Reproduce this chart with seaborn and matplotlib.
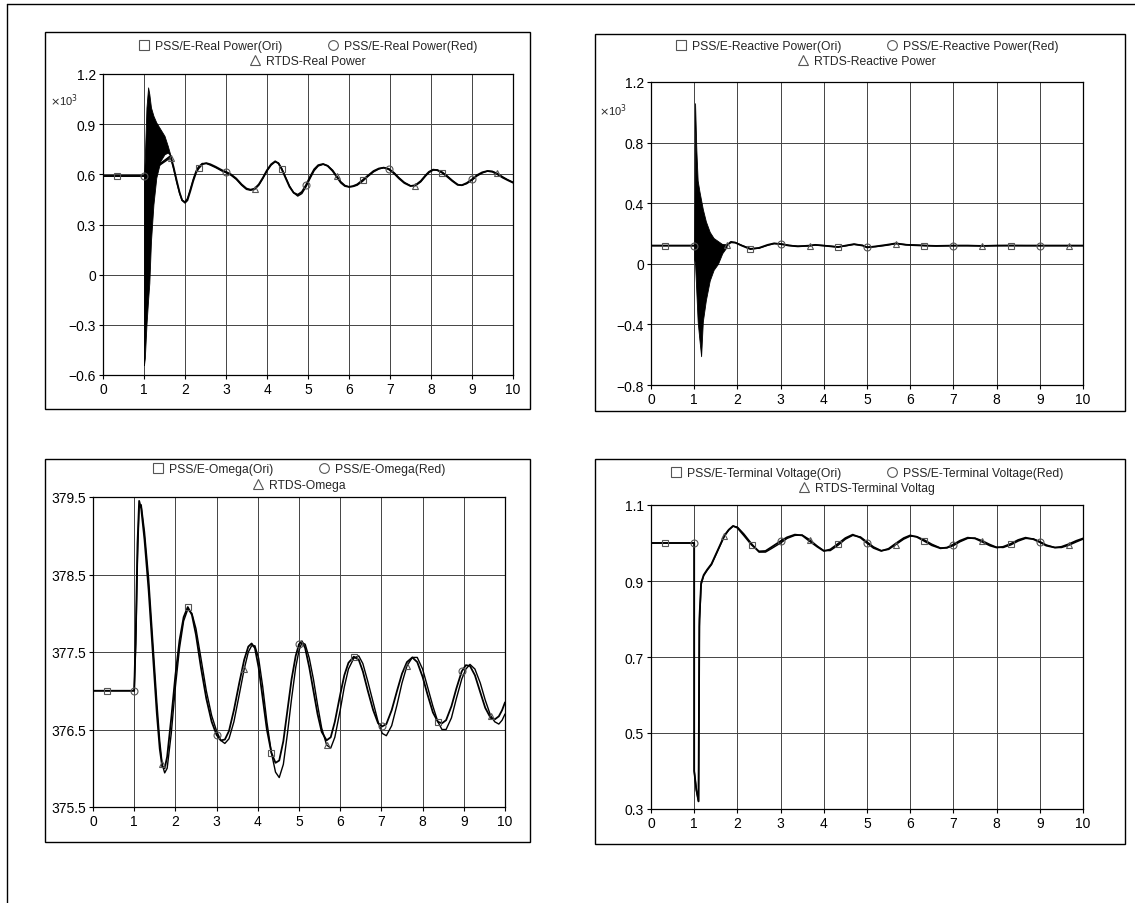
import numpy as np
import seaborn as sns
import matplotlib.pyplot as plt
from matplotlib.lines import Line2D
from matplotlib.patches import Rectangle

# ---- Real power (x10^3) ----
rp_t = [0, 0.33, 0.67, 1.0, 1.65, 1.72, 1.8, 1.87, 1.93, 2.0,
        2.06, 2.13, 2.2, 2.27, 2.33, 2.42, 2.52, 2.62, 2.75, 2.9,
        3.0, 3.12, 3.25, 3.38, 3.5, 3.6, 3.7, 3.8, 3.9, 4.0,
        4.1, 4.2, 4.28, 4.36, 4.45, 4.55, 4.65, 4.75, 4.85, 4.95,
        5.05, 5.15, 5.25, 5.37, 5.48, 5.6, 5.7, 5.8, 5.9, 6.0,
        6.1, 6.2, 6.33, 6.45, 6.6, 6.73, 6.85, 6.97, 7.1, 7.22,
        7.35, 7.5, 7.62, 7.75, 7.87, 7.95, 8.05, 8.15, 8.27, 8.4,
        8.52, 8.65, 8.75, 8.87, 9.0, 9.12, 9.25, 9.38, 9.5, 9.62,
        9.75, 9.87, 10.0]
rp_pss = [0.59, 0.59, 0.59, 0.59, 0.71, 0.645, 0.56, 0.49, 0.445, 0.43,
          0.445, 0.50, 0.56, 0.61, 0.635, 0.66, 0.667, 0.66, 0.645, 0.625,
          0.615, 0.60, 0.575, 0.54, 0.515, 0.508, 0.515, 0.54, 0.58, 0.625,
          0.66, 0.678, 0.665, 0.63, 0.58, 0.525, 0.49, 0.478, 0.495, 0.535,
          0.585, 0.63, 0.655, 0.662, 0.65, 0.62, 0.585, 0.55, 0.53, 0.525,
          0.53, 0.54, 0.565, 0.59, 0.62, 0.635, 0.64, 0.63, 0.605, 0.575,
          0.548, 0.53, 0.535, 0.56, 0.595, 0.615, 0.628, 0.625, 0.61, 0.585,
          0.56, 0.537, 0.535, 0.548, 0.57, 0.595, 0.612, 0.62, 0.615, 0.60,
          0.58, 0.565, 0.55]
rp_rtds = [0.59, 0.59, 0.59, 0.59, 0.70, 0.635, 0.55, 0.485, 0.445, 0.435,
           0.455, 0.51, 0.57, 0.62, 0.645, 0.665, 0.665, 0.655, 0.64, 0.62,
           0.61, 0.595, 0.57, 0.535, 0.51, 0.505, 0.51, 0.535, 0.575, 0.62,
           0.655, 0.675, 0.668, 0.635, 0.585, 0.53, 0.49, 0.47, 0.485, 0.525,
           0.575, 0.622, 0.65, 0.66, 0.652, 0.625, 0.59, 0.556, 0.534, 0.525,
           0.527, 0.535, 0.558, 0.585, 0.615, 0.632, 0.64, 0.634, 0.61, 0.58,
           0.552, 0.532, 0.532, 0.555, 0.59, 0.61, 0.625, 0.627, 0.614, 0.59,
           0.564, 0.54, 0.534, 0.544, 0.565, 0.59, 0.608, 0.62, 0.618, 0.605,
           0.585, 0.568, 0.553]
rp_band_t = [1.0, 1.02, 1.06, 1.1, 1.13, 1.17, 1.23, 1.3, 1.4, 1.5, 1.58, 1.65]
rp_band_hi = [0.59, 0.7, 1.0, 1.12, 1.08, 1.0, 0.95, 0.91, 0.87, 0.83, 0.77, 0.71]
rp_band_lo = [-0.54, -0.5, -0.3, -0.15, -0.05, 0.2, 0.42, 0.58, 0.68, 0.72, 0.73, 0.71]

# ---- Reactive power (x10^3) ----
rq_t = [0, 0.33, 0.67, 1.0, 1.75, 1.85, 1.95,
        2.1, 2.3, 2.5, 2.7, 2.85,
        3.0, 3.2, 3.4, 3.67, 3.8,
        4.0, 4.33, 4.5, 4.7, 4.9,
        5.0, 5.2, 5.45, 5.67, 5.9,
        6.33, 6.6, 7.0, 7.33, 7.67,
        8.0, 8.33, 8.67, 9.0, 9.33, 9.67, 10.0]
rq_pss = [0.12, 0.12, 0.12, 0.12, 0.12, 0.145, 0.14,
          0.12, 0.097, 0.105, 0.125, 0.135,
          0.13, 0.12, 0.115, 0.12, 0.125,
          0.12, 0.11, 0.12, 0.13, 0.12,
          0.108, 0.115, 0.125, 0.135, 0.125,
          0.12, 0.118, 0.12, 0.12, 0.118,
          0.12, 0.12, 0.12, 0.12, 0.12, 0.12, 0.12]
rq_rtds = [0.12, 0.12, 0.12, 0.12, 0.125, 0.14, 0.14,
           0.122, 0.10, 0.103, 0.122, 0.133,
           0.132, 0.122, 0.116, 0.118, 0.124,
           0.12, 0.112, 0.118, 0.128, 0.122,
           0.11, 0.113, 0.122, 0.133, 0.127,
           0.121, 0.118, 0.12, 0.12, 0.119,
           0.12, 0.121, 0.12, 0.12, 0.12, 0.12, 0.12]
rq_band_t = [1.0, 1.02, 1.05, 1.08, 1.12, 1.16, 1.2, 1.27, 1.36, 1.45, 1.55, 1.65, 1.75]
rq_band_hi = [0.12, 1.06, 0.75, 0.55, 0.48, 0.42, 0.36, 0.28, 0.21, 0.17, 0.15, 0.13, 0.12]
rq_band_lo = [0.03, 0.0, -0.19, -0.38, -0.5, -0.61, -0.38, -0.24, -0.11, -0.04, 0.0, 0.07, 0.11]

# ---- Omega ----
om_t = [0, 0.33, 0.67, 1.0, 1.04, 1.08, 1.12, 1.17, 1.25, 1.35,
        1.45, 1.55, 1.62, 1.68, 1.74, 1.8, 1.9, 2.0, 2.1, 2.2,
        2.3, 2.4, 2.5, 2.62, 2.75, 2.88, 3.0, 3.1, 3.2, 3.3,
        3.42, 3.55, 3.67, 3.77, 3.85, 3.93, 4.02, 4.12, 4.22, 4.33,
        4.43, 4.52, 4.62, 4.72, 4.82, 4.92, 5.0, 5.07, 5.15, 5.25,
        5.35, 5.45, 5.55, 5.67, 5.77, 5.87, 6.0, 6.1, 6.2, 6.33,
        6.45, 6.55, 6.67, 6.8, 6.92, 7.02, 7.12, 7.25, 7.38, 7.5,
        7.62, 7.75, 7.87, 8.0, 8.12, 8.25, 8.37, 8.47, 8.57, 8.7,
        8.82, 8.95, 9.05, 9.15, 9.27, 9.4, 9.52, 9.65, 9.75, 9.85,
        9.93, 10.0]
om_pss = [377.0, 377.0, 377.0, 377.0, 377.8, 378.9, 379.45, 379.35, 378.95, 378.3,
          377.5, 376.7, 376.25, 376.02, 376.0, 376.15, 376.65, 377.2, 377.65, 377.95,
          378.08, 377.98, 377.72, 377.3, 376.9, 376.6, 376.43, 376.36, 376.37, 376.48,
          376.75, 377.1, 377.4, 377.57, 377.61, 377.55, 377.3, 376.9, 376.5, 376.2,
          376.07, 376.1, 376.35, 376.75, 377.15, 377.45, 377.6, 377.64, 377.55, 377.3,
          377.0, 376.7, 376.47, 376.36, 376.4, 376.6, 376.95, 377.2, 377.36, 377.44,
          377.4, 377.25, 377.0, 376.75, 376.58, 376.54, 376.57, 376.75, 377.0, 377.22,
          377.37, 377.43, 377.37, 377.18, 376.95, 376.72, 376.6, 376.58, 376.62, 376.8,
          377.03, 377.25, 377.33, 377.32, 377.2, 376.98, 376.78, 376.65, 376.63, 376.67,
          376.75, 376.85]
om_rtds = [377.0, 377.0, 377.0, 377.0, 377.6, 378.7, 379.38, 379.4, 379.05, 378.45,
           377.65, 376.85, 376.35, 376.05, 375.94, 376.0, 376.45, 377.05, 377.55, 377.9,
           378.05, 378.0, 377.8, 377.42, 377.0, 376.68, 376.48, 376.36, 376.32, 376.38,
           376.6, 376.95, 377.28, 377.5, 377.58, 377.58, 377.42, 377.05, 376.6, 376.2,
           375.95, 375.88, 376.05, 376.45, 376.9, 377.3, 377.52, 377.62, 377.6, 377.42,
           377.15, 376.82, 376.52, 376.3, 376.26, 376.4, 376.75, 377.05, 377.28, 377.42,
           377.45, 377.35, 377.12, 376.85, 376.6, 376.45, 376.42, 376.55, 376.82, 377.1,
           377.32, 377.43, 377.43, 377.28, 377.05, 376.8, 376.6, 376.5, 376.5, 376.65,
           376.9, 377.15, 377.28, 377.34, 377.28, 377.1, 376.88, 376.68, 376.6, 376.57,
           376.62, 376.7]

# ---- Terminal voltage ----
tv_t = [0, 0.33, 0.67, 1.0, 1.0, 1.05, 1.1, 1.12, 1.16, 1.22, 1.3, 1.4, 1.5, 1.6, 1.7, 1.8, 1.9,
        2.0, 2.15, 2.33, 2.5, 2.65, 2.8,
        3.0, 3.15, 3.33, 3.5, 3.67, 3.85,
        4.0, 4.15, 4.33, 4.5, 4.67, 4.85,
        5.0, 5.15, 5.33, 5.5, 5.67, 5.85,
        6.0, 6.15, 6.33, 6.5, 6.7, 6.85,
        7.0, 7.15, 7.33, 7.5, 7.67, 7.85,
        8.0, 8.15, 8.33, 8.5, 8.67, 8.85,
        9.0, 9.15, 9.35, 9.5, 9.67, 9.85, 10.0]
tv_pss = [1.0, 1.0, 1.0, 1.0, 0.40, 0.35, 0.32, 0.80, 0.895, 0.916, 0.93, 0.945, 0.97, 0.995, 1.02, 1.035, 1.045,
          1.04, 1.02, 0.995, 0.978, 0.979, 0.99,
          1.005, 1.015, 1.022, 1.02, 1.005, 0.99,
          0.979, 0.983, 0.998, 1.013, 1.022, 1.014,
          1.0, 0.987, 0.979, 0.985, 0.999, 1.013,
          1.02, 1.016, 1.005, 0.994, 0.986, 0.988,
          0.996, 1.006, 1.014, 1.012, 1.003, 0.993,
          0.988, 0.99, 0.998, 1.008, 1.014, 1.01,
          1.002, 0.993, 0.988, 0.99, 0.997, 1.006, 1.012]
tv_rtds = [1.0, 1.0, 1.0, 1.0, 0.40, 0.35, 0.32, 0.78, 0.89, 0.914, 0.928, 0.943, 0.968, 0.993, 1.018, 1.034, 1.044,
           1.042, 1.024, 0.998, 0.976, 0.976, 0.986,
           1.0, 1.012, 1.02, 1.021, 1.009, 0.992,
           0.98, 0.98, 0.994, 1.01, 1.02, 1.016,
           1.003, 0.99, 0.98, 0.983, 0.996, 1.01,
           1.018, 1.017, 1.008, 0.997, 0.987, 0.987,
           0.993, 1.003, 1.012, 1.013, 1.006, 0.996,
           0.989, 0.988, 0.995, 1.005, 1.012, 1.011,
           1.004, 0.995, 0.988, 0.988, 0.994, 1.003, 1.01]

# marker times used by each series
mark_ori = [0.33, 2.33, 4.33, 6.33, 8.33]
mark_red = [1.0, 3.0, 5.0, 7.0, 9.0]
mark_rtds = [1.67, 3.67, 5.67, 7.67, 9.67]

sns.set_style("white")
plt.rcParams['font.family'] = ['Liberation Sans', 'DejaVu Sans']

fig = plt.figure(figsize=(11.35, 9.04), dpi=100)
W, H = 1135, 904
MK = dict(ls='none', mfc='none', mec='#555555', mew=0.8, ms=5)
MK_LEG = dict(ls='none', mfc='none', mec='#555555', mew=0.8, ms=7)


def nearest(t, marks):
    t = np.asarray(t)
    return [int(np.argmin(np.abs(t - m))) for m in marks]


def panel(px, names, t, pss, rtds, yticks, ylabels, ylim, leg_y, band=None, scale=False):
    l, r, top, bot = px
    ax = fig.add_axes([l / W, 1 - bot / H, (r - l) / W, (bot - top) / H])
    if band is not None:
        ax.fill_between(band[0], band[1], band[2], color='k', lw=0.6, zorder=3)
    sns.lineplot(x=t, y=rtds, ax=ax, color='k', lw=1.0, estimator=None, sort=False, zorder=4)
    sns.lineplot(x=t, y=pss, ax=ax, color='k', lw=1.3, estimator=None, sort=False, zorder=4)
    t_arr, p_arr, r_arr = np.asarray(t), np.asarray(pss), np.asarray(rtds)
    i = nearest(t, mark_ori)
    ax.plot(t_arr[i], p_arr[i], marker='s', zorder=5, **MK)
    i = nearest(t, mark_red)
    ax.plot(t_arr[i], p_arr[i], marker='o', zorder=5, **MK)
    i = nearest(t, mark_rtds)
    ax.plot(t_arr[i], r_arr[i], marker='^', zorder=5, **MK)

    ax.set_xlim(0, 10)
    ax.set_ylim(*ylim)
    ax.set_xticks(range(11))
    ax.set_yticks(yticks)
    ax.set_yticklabels(ylabels)
    ax.grid(True, color='#444444', lw=0.7)
    ax.tick_params(labelsize=10, length=3, width=0.8, pad=2, direction='out',
                   left=True, bottom=True, colors='k')
    for s in ax.spines.values():
        s.set_color('k')
        s.set_linewidth(0.9)
    ax.set_xlabel('')
    ax.set_ylabel('')

    h = [Line2D([], [], marker=m, **MK_LEG) for m in ('s', 'o', '^')]
    leg1 = ax.legend(h[:2], names[:2], loc='center', bbox_to_anchor=(0.5, leg_y[0]),
                     ncol=2, frameon=False, fontsize=8.7, handlelength=0.8,
                     handletextpad=0.5, columnspacing=3.8, borderpad=0)
    ax.add_artist(leg1)
    ax.legend(h[2:], names[2:], loc='center', bbox_to_anchor=(0.5, leg_y[1]),
              frameon=False, fontsize=8.7, handlelength=0.8, handletextpad=0.5, borderpad=0)
    if scale:
        ax.text(scale[0], scale[1], r'$\times$10$^3$', transform=ax.transAxes,
                fontsize=8, ha='left', va='center')
    return ax


panel((103, 513, 75, 376),
      ['PSS/E-Real Power(Ori)', 'PSS/E-Real Power(Red)', 'RTDS-Real Power'],
      rp_t, rp_pss, rp_rtds,
      [-0.6, -0.3, 0, 0.3, 0.6, 0.9, 1.2], ['−0.6', '−0.3', '0', '0.3', '0.6', '0.9', '1.2'],
      (-0.6, 1.2), (1.093, 1.043), band=(rp_band_t, rp_band_lo, rp_band_hi), scale=(-0.13, 0.915))

panel((651, 1083, 83, 386),
      ['PSS/E-Reactive Power(Ori)', 'PSS/E-Reactive Power(Red)', 'RTDS-Reactive Power'],
      rq_t, rq_pss, rq_rtds,
      [-0.8, -0.4, 0, 0.4, 0.8, 1.2], ['−0.8', '−0.4', '0', '0.4', '0.8', '1.2'],
      (-0.8, 1.2), (1.119, 1.069), band=(rq_band_t, rq_band_lo, rq_band_hi), scale=(-0.12, 0.91))

panel((93, 505, 498, 808),
      ['PSS/E-Omega(Ori)', 'PSS/E-Omega(Red)', 'RTDS-Omega'],
      om_t, om_pss, om_rtds,
      [375.5, 376.5, 377.5, 378.5, 379.5], ['375.5', '376.5', '377.5', '378.5', '379.5'],
      (375.5, 379.5), (1.09, 1.039))

panel((651, 1083, 506, 810),
      ['PSS/E-Terminal Voltage(Ori)', 'PSS/E-Terminal Voltage(Red)', 'RTDS-Terminal Voltag'],
      tv_t, tv_pss, tv_rtds,
      [0.3, 0.5, 0.7, 0.9, 1.1], ['0.3', '0.5', '0.7', '0.9', '1.1'],
      (0.3, 1.1), (1.105, 1.056))

# boxes around each chart and the page frame
for x0, y0, x1, y1 in [(45, 33, 530, 410), (595, 35, 1125, 412),
                       (45, 460, 530, 843), (595, 460, 1125, 845)]:
    fig.add_artist(Rectangle((x0 / W, 1 - y1 / H), (x1 - x0) / W, (y1 - y0) / H,
                             transform=fig.transFigure, fill=False, ec='k', lw=1.0))
fig.add_artist(Line2D([7 / W, 1], [1 - 5 / H, 1 - 5 / H], transform=fig.transFigure, color='k', lw=1.0))
fig.add_artist(Line2D([7 / W, 7 / W], [0, 1 - 5 / H], transform=fig.transFigure, color='k', lw=1.0))

fig.savefig('out.png', dpi=100)
